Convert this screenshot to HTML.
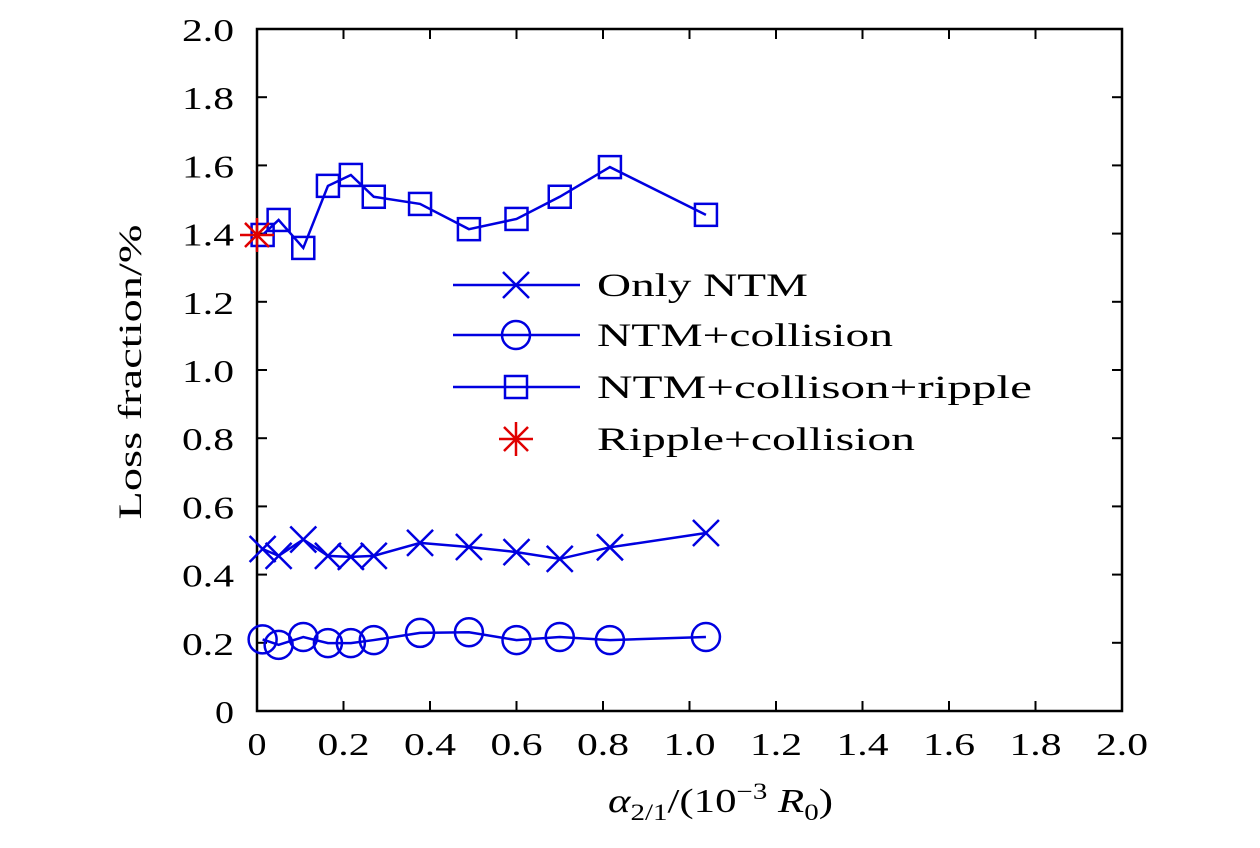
<!DOCTYPE html>
<html><head><meta charset="utf-8"><style>
body{margin:0;background:#fff}
svg text{font-family:"Liberation Serif",serif;fill:#000}
</style></head><body>
<svg width="1260" height="843">
<g id="axes"></g><g id="plot"></g><g id="legend"></g>
</svg>
<script>
const xs=[0.013,0.05,0.107,0.164,0.217,0.27,0.377,0.49,0.60,0.70,0.816,1.038];
const ntm=[0.475,0.455,0.503,0.455,0.452,0.455,0.493,0.481,0.466,0.446,0.48,0.522];
const coll=[0.21,0.194,0.217,0.199,0.199,0.208,0.229,0.231,0.208,0.217,0.208,0.217];
const ripple=[1.396,1.44,1.358,1.54,1.572,1.508,1.487,1.413,1.443,1.508,1.595,1.455];
const starX=[0];const starY=[1.396];
const ticks=[0,0.2,0.4,0.6,0.8,1.0,1.2,1.4,1.6,1.8,2.0];
const tickLabels=["0","0.2","0.4","0.6","0.8","1.0","1.2","1.4","1.6","1.8","2.0"];
const NS="http://www.w3.org/2000/svg";
const X0=257,X1=1122,Y0=711,Y1=29;
const sx=v=>X0+v/2*(X1-X0), sy=v=>Y0-v/2*(Y0-Y1);
function mk(p,t,a){const e=document.createElementNS(NS,t);for(const k in a)e.setAttribute(k,a[k]);p.appendChild(e);return e;}
const ax=document.getElementById('axes'),pl=document.getElementById('plot'),lg=document.getElementById('legend');
let fr=mk(ax,'rect',{x:X0,y:Y1,width:X1-X0,height:Y0-Y1,fill:'none',stroke:'#000','stroke-width':2.5});


ticks.forEach((t,i)=>{
 mk(ax,'line',{x1:sx(t),x2:sx(t),y1:Y0,y2:Y0-10,stroke:'#000','stroke-width':2});
 mk(ax,'line',{x1:sx(t),x2:sx(t),y1:Y1,y2:Y1+10,stroke:'#000','stroke-width':2});
 mk(ax,'line',{x1:X0,x2:X0+10,y1:sy(t),y2:sy(t),stroke:'#000','stroke-width':2});
 mk(ax,'line',{x1:X1,x2:X1-10,y1:sy(t),y2:sy(t),stroke:'#000','stroke-width':2});
 const w=tickLabels[i].length>1?52:19;
 let a=mk(ax,'text',{x:sx(t),y:Y0+44,'text-anchor':'middle','font-size':32,textLength:w,lengthAdjust:'spacingAndGlyphs'});a.textContent=tickLabels[i];
 
 
 let b=mk(ax,'text',{x:X0-23,y:sy(t)+12,'text-anchor':'end','font-size':32,textLength:w,lengthAdjust:'spacingAndGlyphs'});b.textContent=tickLabels[i];
 
 
});
let yt=mk(ax,'text',{x:0,y:0,'text-anchor':'middle','font-size':33,textLength:295,lengthAdjust:'spacingAndGlyphs',transform:'translate(141,372) rotate(-90)'});yt.textContent='Loss fraction/%';


let xt=mk(ax,'text',{x:608,y:812,'font-size':34,textLength:225,lengthAdjust:'spacingAndGlyphs'});
xt.innerHTML='<tspan font-style="italic">α</tspan><tspan font-size="23" dy="8">2/1</tspan><tspan dy="-8">/(10</tspan><tspan font-size="23" dy="-13">−3</tspan><tspan dy="13">  </tspan><tspan font-style="italic">R</tspan><tspan font-size="23" dy="8">0</tspan><tspan dy="-8">)</tspan>';


const B='#0000e0';
function marker(g,type,x,y){
 if(type==='x'){mk(g,'path',{d:`M${x-13},${y-13}L${x+13},${y+13}M${x-13},${y+13}L${x+13},${y-13}`,stroke:B,'stroke-width':2.5,fill:'none'});}
 else if(type==='o'){mk(g,'circle',{cx:x,cy:y,r:14,stroke:B,'stroke-width':2.5,fill:'none'});}
 else if(type==='s'){mk(g,'rect',{x:x-11,y:y-11,width:22,height:22,stroke:B,'stroke-width':2.5,fill:'none'});}
 else {for(let k=0;k<4;k++){const a=k*Math.PI/4;mk(g,'line',{x1:x-17*Math.cos(a),y1:y-17*Math.sin(a),x2:x+17*Math.cos(a),y2:y+17*Math.sin(a),stroke:'#e00000','stroke-width':2.5});}}
}
function series(name,ys,type){
 const g=mk(pl,'g',{});
 
 
 mk(g,'polyline',{points:xs.map((x,i)=>sx(x)+','+sy(ys[i])).join(' '),fill:'none',stroke:B,'stroke-width':2.5});
 xs.forEach((x,i)=>marker(g,type,sx(x),sy(ys[i])));
}
series('series-only-ntm',ntm,'x');
series('series-ntm-collision',coll,'o');
series('series-ntm-collision-ripple',ripple,'s');
const sg=mk(pl,'g',{});


starX.forEach((x,i)=>marker(sg,'*',sx(x),sy(starY[i])));
const items=[['Only NTM','x',285,211],['NTM+collision','o',335,296],['NTM+collison+ripple','s',387,435],['Ripple+collision','*',439,318]];
items.forEach(it=>{
 const g=mk(lg,'g',{});
 
 
 if(it[1]!=='*')mk(g,'line',{x1:453,x2:580,y1:it[2],y2:it[2],stroke:B,'stroke-width':2.5});
 marker(g,it[1],516,it[2]);
 const t=mk(g,'text',{x:597,y:it[2]+11,'font-size':33,textLength:it[3],lengthAdjust:'spacingAndGlyphs'});t.textContent=it[0];
});
</script>
</body></html>
